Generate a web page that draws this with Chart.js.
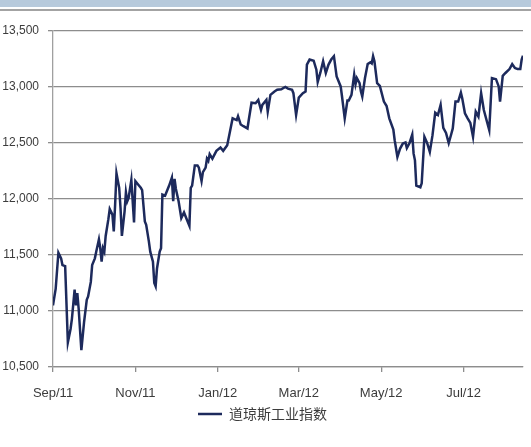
<!DOCTYPE html>
<html>
<head>
<meta charset="utf-8">
<title>道琼斯工业指数</title>
<script src="https://cdn.jsdelivr.net/npm/chart.js@4/dist/chart.umd.min.js"></script>
<style>
  html, body { margin: 0; padding: 0; background: #fff; }
  body { width: 531px; height: 447px; position: relative; overflow: hidden; }
  #band { position: absolute; left: 0; top: 0; width: 531px; height: 7px; background: #b7cadc; }
  #rule { position: absolute; left: 0; top: 9px; width: 531px; height: 2px; background: #a3a3a3; }
  #wrap { position: absolute; left: 0; top: 0; width: 531px; height: 447px; }
</style>
</head>
<body>
<div id="wrap"><canvas id="chart"></canvas></div>
<div id="band"></div>
<div id="rule"></div>
<script>
// Dow Jones Industrial Average, Sep 2011 - Aug 2012
const seriesName = '道琼斯工业指数';

const dates = [
  '2011-09-01','2011-09-03','2011-09-05','2011-09-07','2011-09-08','2011-09-10','2011-09-12','2011-09-14','2011-09-15','2011-09-17',
  '2011-09-18','2011-09-19','2011-09-20','2011-09-22','2011-09-24','2011-09-26','2011-09-27','2011-09-29','2011-09-30',
  '2011-10-02','2011-10-03','2011-10-05','2011-10-06','2011-10-07','2011-10-08','2011-10-09','2011-10-10','2011-10-12','2011-10-13',
  '2011-10-15','2011-10-16','2011-10-17','2011-10-18','2011-10-20','2011-10-21','2011-10-22','2011-10-24','2011-10-25','2011-10-26',
  '2011-10-27','2011-10-29','2011-10-31',
  '2011-11-01','2011-11-03','2011-11-05','2011-11-06','2011-11-08','2011-11-09','2011-11-11','2011-11-12','2011-11-14','2011-11-15',
  '2011-11-16','2011-11-17','2011-11-19','2011-11-20','2011-11-21','2011-11-23','2011-11-24','2011-11-26','2011-11-28','2011-11-29',
  '2011-11-30',
  '2011-12-01','2011-12-03','2011-12-05','2011-12-07','2011-12-09','2011-12-11','2011-12-12','2011-12-13','2011-12-15','2011-12-17',
  '2011-12-18','2011-12-20','2011-12-21','2011-12-23','2011-12-24','2011-12-25','2011-12-26','2011-12-28','2011-12-31',
  '2012-01-03','2012-01-05','2012-01-08','2012-01-10','2012-01-12','2012-01-15','2012-01-16','2012-01-18','2012-01-20','2012-01-23',
  '2012-01-24','2012-01-26','2012-01-29','2012-01-31',
  '2012-02-02','2012-02-03','2012-02-06','2012-02-07','2012-02-09','2012-02-12','2012-02-14','2012-02-17','2012-02-20','2012-02-22',
  '2012-02-25','2012-02-26','2012-02-28',
  '2012-03-01','2012-03-04','2012-03-06','2012-03-07','2012-03-09','2012-03-12','2012-03-14','2012-03-15','2012-03-17','2012-03-19',
  '2012-03-21','2012-03-23','2012-03-25','2012-03-27','2012-03-29',
  '2012-04-01','2012-04-02','2012-04-04','2012-04-06','2012-04-07','2012-04-09','2012-04-11','2012-04-12','2012-04-13','2012-04-15',
  '2012-04-16','2012-04-17','2012-04-19','2012-04-21','2012-04-23','2012-04-24','2012-04-25','2012-04-26','2012-04-28','2012-04-30',
  '2012-05-03','2012-05-05','2012-05-07','2012-05-10','2012-05-11','2012-05-13','2012-05-15','2012-05-17','2012-05-19','2012-05-20',
  '2012-05-22','2012-05-24','2012-05-25','2012-05-26','2012-05-27','2012-05-30','2012-05-31',
  '2012-06-02','2012-06-04','2012-06-06','2012-06-08','2012-06-10','2012-06-12','2012-06-14','2012-06-16','2012-06-18','2012-06-20',
  '2012-06-22','2012-06-23','2012-06-25','2012-06-27','2012-06-29','2012-06-30',
  '2012-07-02','2012-07-04','2012-07-06','2012-07-08','2012-07-10','2012-07-12','2012-07-14','2012-07-16','2012-07-20','2012-07-22',
  '2012-07-25','2012-07-27','2012-07-28','2012-07-30',
  '2012-08-01','2012-08-04','2012-08-06','2012-08-08','2012-08-10','2012-08-12','2012-08-13','2012-08-14'
];

const closes = [
  11050, 11200, 11520, 11470, 11410, 11400, 10720, 10840, 10930, 11190,
  11050, 11160, 11020, 10650, 10900, 11100, 11130, 11260, 11410,
  11470, 11530, 11640, 11560, 11440, 11560, 11530, 11670, 11820, 11910,
  11860, 11710, 11950, 12230, 12100, 11920, 11670, 11890, 12060, 11980,
  12010, 12170, 11790,
  12160, 12130, 12100, 12080, 11800, 11770, 11620, 11530, 11440, 11250,
  11220, 11380, 11530, 11560, 12040, 12030, 12060, 12120, 12190, 11980,
  12180,
  12090, 11980, 11830, 11880, 11820, 11760, 12100, 12120, 12300, 12300,
  12280, 12160, 12240, 12280, 12360, 12340, 12400, 12360, 12430,
  12460, 12430, 12480, 12600, 12720, 12705, 12740, 12665, 12650, 12630,
  12710, 12860, 12855, 12885,
  12795, 12840, 12885, 12780, 12930, 12960, 12975, 12980, 13000, 12985,
  12975, 12945, 12750,
  12905, 12945, 12960, 13200, 13245, 13235, 13155, 13045, 13130, 13230,
  13125, 13200, 13245, 13275, 13095,
  13005, 12915, 12720, 12880, 12880, 12930, 13110, 13025, 13080, 13035,
  12960, 12915, 13080, 13205, 13220, 13210, 13275, 13230, 13035, 13010,
  12870, 12830, 12720, 12620, 12525, 12375, 12450, 12495, 12505, 12455,
  12500, 12575, 12405, 12345, 12120, 12105, 12140,
  12555, 12500, 12420, 12570, 12770, 12750, 12840, 12635, 12590, 12500,
  12585, 12630, 12870, 12870, 12950, 12900,
  12765, 12720, 12680, 12555, 12780, 12735, 12945, 12795, 12615, 13080,
  13070, 13005, 12870, 13100,
  13125, 13160, 13205, 13170, 13160, 13160, 13245, 13280
];

// x axis: labelled every two months
const tickDates = ['2011-09-01', '2011-11-01', '2012-01-01', '2012-03-01', '2012-05-01', '2012-07-01'];
const tickLabels = ['Sep/11', 'Nov/11', 'Jan/12', 'Mar/12', 'May/12', 'Jul/12'];

// y axis
const yMin = 10500;
const yMax = 13500;
const yStep = 500;

const DAY = 86400000;
const toUTC = s => { const [y, m, d] = s.split('-').map(Number); return Date.UTC(y, m - 1, d); };
const origin = toUTC(dates[0]);
const dayOf = s => Math.round((toUTC(s) - origin) / DAY);

const tickDays = tickDates.map(dayOf);
const points = dates.map((d, i) => ({ x: dayOf(d), y: closes[i] }));

const textColor = '#3c3c3c';
const gridColor = '#8d8d8d';
const family = "'Liberation Sans', Arial, sans-serif";

new Chart(document.getElementById('chart'), {
  type: 'line',
  data: {
    datasets: [{
      label: seriesName,
      data: points,
      borderColor: '#1d2a5c',
      backgroundColor: '#1d2a5c',
      borderWidth: 2.5,
      pointRadius: 0,
      tension: 0,
      fill: false
    }]
  },
  options: {
    responsive: true,
    maintainAspectRatio: false,
    animation: false,
    events: [],
    layout: { padding: { left: 2, right: 8, top: 31, bottom: 16 } },
    plugins: {
      tooltip: { enabled: false },
      legend: {
        position: 'bottom',
        labels: {
          usePointStyle: true,
          pointStyle: 'line',
          pointStyleWidth: 24,
          boxHeight: 14,
          color: textColor,
          padding: 6,
          font: { family: "'Noto Sans CJK SC', sans-serif", size: 14 }
        }
      }
    },
    scales: {
      x: {
        type: 'linear',
        min: 0,
        max: dayOf(dates[dates.length - 1]),
        afterBuildTicks: s => { s.ticks = tickDays.map(v => ({ value: v })); },
        afterFit: s => { s.height = 34; },
        ticks: {
          autoSkip: false,
          maxRotation: 0,
          padding: 14,
          color: textColor,
          font: { family, size: 13 },
          callback: (v, i) => tickLabels[i]
        },
        grid: { drawOnChartArea: false, drawTicks: true, tickLength: 5, color: gridColor, lineWidth: 1.3 },
        border: { color: gridColor, width: 1.3 }
      },
      y: {
        min: yMin,
        max: yMax,
        afterFit: s => { s.width = 51; },
        ticks: {
          stepSize: yStep,
          padding: 9,
          color: textColor,
          font: { family, size: 12 },
          callback: v => v.toLocaleString('en-US')
        },
        grid: { color: gridColor, lineWidth: 1.3, tickLength: 5 },
        border: { color: '#a0a0a0', width: 1.3 }
      }
    }
  }
});
</script>
</body>
</html>
